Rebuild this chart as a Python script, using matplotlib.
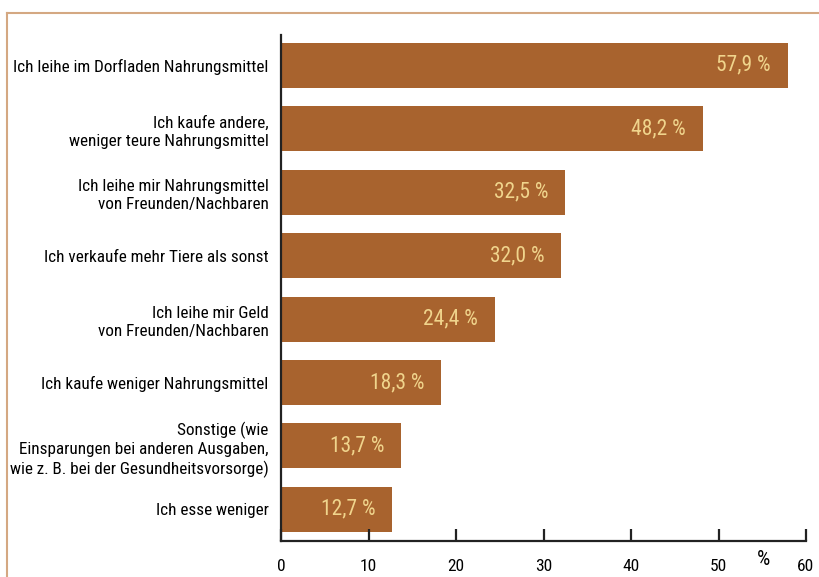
import matplotlib
matplotlib.use("Agg")
import matplotlib.pyplot as plt

categories = [
    "Ich leihe im Dorfladen Nahrungsmittel",
    "Ich kaufe andere,\nweniger teure Nahrungsmittel",
    "Ich leihe mir Nahrungsmittel\nvon Freunden/Nachbaren",
    "Ich verkaufe mehr Tiere als sonst",
    "Ich leihe mir Geld\nvon Freunden/Nachbaren",
    "Ich kaufe weniger Nahrungsmittel",
    "Sonstige (wie\nEinsparungen bei anderen Ausgaben,\nwie z. B. bei der Gesundheitsvorsorge)",
    "Ich esse weniger",
]
values = [57.9, 48.2, 32.5, 32.0, 24.4, 18.3, 13.7, 12.7]
xticks = [0, 10, 20, 30, 40, 50, 60]

plt.rcParams['font.family'] = ["Roboto Condensed", 'DejaVu Sans']

bar_color = "#A8632E"
lab_color = "#F0D48C"

fig = plt.figure(figsize=(8.19, 5.77), dpi=100)
ax = fig.add_axes([281/819, 1-541/577, (806-281)/819, (541-35)/577])

y = list(range(len(values)))
ax.barh(y, values, height=0.71, color=bar_color)
ax.set_ylim(len(values)-0.5, -0.48)
ax.set_xlim(0, 60)

for yi, v in zip(y, values):
    ax.text(v - 1.9, yi, f"{v:.1f} %".replace(".", ","), ha="right", va="center",
            color=lab_color, fontsize=15.5)

ax.set_yticks(y)
ax.set_yticklabels(categories, fontsize=12.3, ha="right", linespacing=1.3)
ax.tick_params(axis="y", length=0, pad=9)
ax.set_xticks(xticks)
ax.set_xticklabels([str(t) for t in xticks], fontsize=12.5)
ax.tick_params(axis="x", direction="in", length=9, width=1.6, pad=13, color="#222222")

for s in ["top", "right"]:
    ax.spines[s].set_visible(False)
for s in ["left", "bottom"]:
    ax.spines[s].set_linewidth(1.6)
    ax.spines[s].set_color("#222222")

ax.text(55.2, -0.018, "%", transform=ax.get_xaxis_transform(), ha="center", va="top",
        fontsize=15)

# outer frame
frame_color = "#D4A882"
fig.add_artist(plt.Line2D([7/819, 1], [1-13/577, 1-13/577], color=frame_color, lw=1.5,
                          transform=fig.transFigure))
fig.add_artist(plt.Line2D([7/819, 7/819], [0, 1-13/577], color=frame_color, lw=1.5,
                          transform=fig.transFigure))

fig.savefig("out.png", dpi=100)
